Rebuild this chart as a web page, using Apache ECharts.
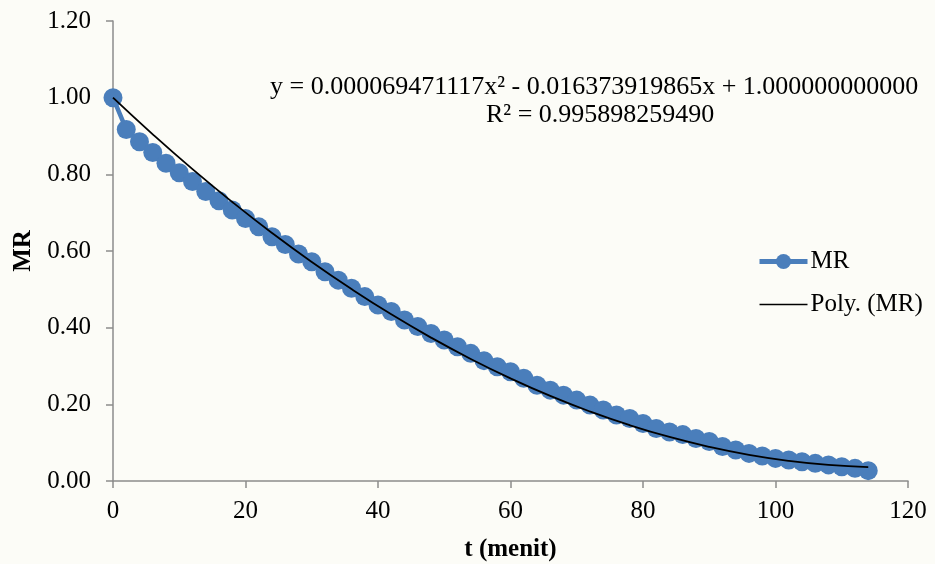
<!DOCTYPE html>
<html><head><meta charset="utf-8">
<script src="https://cdn.jsdelivr.net/npm/echarts@6/dist/echarts.min.js"></script>
<style>html,body{margin:0;padding:0;background:#fcfcf7;}#c{width:935px;height:564px;}</style>
</head><body><div id="c"></div>
<script>
const tValues = [0,2,4,6,8,10,12,14,16,18,20,22,24,26,28,30,32,34,36,38,40,42,44,46,48,50,52,54,56,58,60,62,64,66,68,70,72,74,76,78,80,82,84,86,88,90,92,94,96,98,100,102,104,106,108,110,112,114];
const mrValues = [1.000,0.917,0.885,0.857,0.829,0.804,0.781,0.755,0.731,0.707,0.685,0.663,0.637,0.617,0.592,0.572,0.546,0.524,0.503,0.481,0.459,0.442,0.420,0.403,0.385,0.368,0.350,0.333,0.314,0.298,0.285,0.268,0.250,0.237,0.224,0.211,0.198,0.185,0.172,0.163,0.150,0.137,0.128,0.121,0.111,0.103,0.090,0.081,0.072,0.065,0.059,0.055,0.050,0.046,0.042,0.037,0.033,0.027];
const trendT = [0,6,12,18,24,30,36,42,48,54,60,66,72,78,84,90,96,102,108,114];
const trendValues = [1.0000,0.9043,0.8135,0.7278,0.6470,0.5713,0.5006,0.4348,0.3741,0.3184,0.2677,0.2219,0.1812,0.1455,0.1148,0.0891,0.0683,0.0526,0.0419,0.0362];
const equationText = 'y = 0.000069471117x\u00B2 - 0.016373919865x + 1.000000000000';
const r2Text = 'R\u00B2 = 0.995898259490';

const font = '"Liberation Serif","Times New Roman",serif';
const FS = 25;
const chart = echarts.init(document.getElementById('c'));
chart.setOption({
  backgroundColor: '#fcfcf7',
  animation: false,
  grid: {left: 113, right: 27, top: 21, bottom: 83, outerBoundsMode: 'none', containLabel: false},
  xAxis: {
    type: 'value', min: 0, max: 120, interval: 20,
    name: 't (menit)', nameLocation: 'middle', nameGap: 56,
    nameTextStyle: {fontFamily: font, fontSize: FS, fontWeight: 'bold', color: '#000'},
    axisLine: {show: true, lineStyle: {color: '#8c8c8c', width: 1.5}},
    axisTick: {show: true, length: 7, lineStyle: {color: '#8c8c8c', width: 1.5}},
    axisLabel: {fontFamily: font, fontSize: FS, color: '#000', margin: 18},
    splitLine: {show: false}
  },
  yAxis: {
    type: 'value', min: 0, max: 1.2, interval: 0.2,
    name: 'MR', nameLocation: 'middle', nameGap: 77, nameRotate: 90,
    nameTextStyle: {fontFamily: font, fontSize: FS, fontWeight: 'bold', color: '#000'},
    axisLine: {show: true, lineStyle: {color: '#8c8c8c', width: 1.5}},
    axisTick: {show: true, length: 7, lineStyle: {color: '#8c8c8c', width: 1.5}},
    axisLabel: {fontFamily: font, fontSize: FS, color: '#000', margin: 22, formatter: v => v.toFixed(2)},
    splitLine: {show: false}
  },
  legend: {
    orient: 'vertical', left: 752, top: 244, itemGap: 18, itemWidth: 48, itemHeight: 19,
    textStyle: {fontFamily: font, fontSize: FS, color: '#000', padding: [0,0,0,-2]},
    data: [
      {name: 'MR', lineStyle: {width: 5, color: '#4a7ebb'}},
      {name: 'Poly. (MR)', icon: 'path://M0,0 L48,0 L48,1.5 L0,1.5 Z', itemStyle: {color: '#000'}}
    ]
  },
  graphic: [
    {type: 'text', left: 270, top: 74, style: {text: equationText, font: '26px ' + font, fill: '#000'}},
    {type: 'text', left: 486, top: 102, style: {text: r2Text, font: '26px ' + font, fill: '#000'}}
  ],
  series: [
    {
      name: 'MR', type: 'line',
      data: tValues.map((t, i) => [t, mrValues[i]]),
      symbol: 'circle', symbolSize: 19,
      lineStyle: {color: '#4a7ebb', width: 4.5},
      itemStyle: {color: '#4a7ebb'},
      z: 2
    },
    {
      name: 'Poly. (MR)', type: 'line', smooth: true,
      data: trendT.map((t, i) => [t, trendValues[i]]),
      symbol: 'none',
      lineStyle: {color: '#000', width: 1.8},
      itemStyle: {color: '#000'},
      z: 3
    }
  ]
});
</script></body></html>
